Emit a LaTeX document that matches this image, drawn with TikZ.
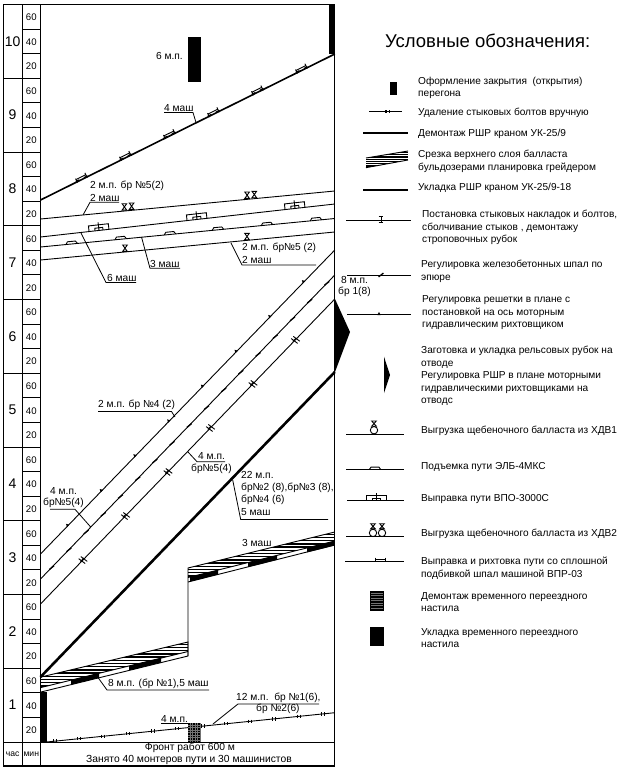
\documentclass[tikz,border=0pt]{standalone}
\usepackage{fontspec}
\setmainfont{Liberation Sans}
\tikzset{
  lbl/.style={inner sep=0pt,font=\fontsize{10.2}{12}\selectfont,anchor=west},
  leg/.style={inner sep=0pt,font=\fontsize{10.1}{12.6}\selectfont,anchor=west,align=left},
  minlbl/.style={inner sep=0pt,font=\fontsize{9.6}{11}\selectfont},
  hourlbl/.style={inner sep=0pt,font=\fontsize{14}{17}\selectfont},
  grid/.style={line width=1pt},
  lead/.style={line width=.8pt},
  track/.style={line width=.9pt},
  fat/.style={line width=1.6pt},
  triamark/.pic={\fill (-1.7,.3)--(0,-2.8)--(1.7,.3)--cycle;},
  slashmark/.pic={\draw[line width=1.3pt] (-2.4,1.9)--(2.4,-1.9);},
  hashmark/.pic={\draw[line width=.9pt] (-1.6,-4)--(-.6,4) (1.4,-4)--(2.4,4) (-2.5,-.8)--(2.5,-.8);},
  beammark/.pic={\draw[line width=.8pt] (-2.4,-3.5)--(2.4,-3.5) (-2.4,2.5)--(2.4,2.5) (0,-3.5)--(0,2.5);},
  boltmark/.pic={\draw[line width=1.4pt] (-1.7,-1.7)--(-1.7,1.7) (1.7,-1.7)--(1.7,1.7);},
  vprmark/.pic={\draw[line width=.9pt] (-5.5,-2.6)--(5.5,-2.6) (-5.5,-3.6)--(-5.5,.8) (5.5,-4.6)--(5.5,.8);
    \fill (-6.5,-1.4)--(-2.5,-1.4)--(-2.5,.3)--(-6.5,.3)--cycle (2.5,-1.4)--(6.5,-1.4)--(6.5,.3)--(2.5,.3)--cycle;},
  glassmark/.pic={\draw[line width=.9pt] (-2.3,-7)--(2.3,-7)--(-2.3,-.6)--(2.3,-.6)--cycle;},
  humpmark/.pic={\draw[line width=.9pt] (-5.8,0)--(-4,-2.6)--(4,-2.6)--(5.8,0);},
  vpomark/.pic={\draw[line width=.9pt] (-10,0)--(-10,-5.6)--(10,-5.6)--(10,0) (-4,0)--(-4,-2.6)--(4,-2.6)--(4,0) (0,0)--(0,-8);},
  ringmark/.pic={\draw[line width=.9pt] (0,-3.8) circle (3.7pt);
    \draw[line width=.9pt] (-2.3,-13)--(2.3,-13)--(-2.3,-7.8)--(2.3,-7.8)--cycle;}
}
\begin{document}
\begin{tikzpicture}[x=1pt,y=-1pt]
\useasboundingbox (0,0) rectangle (626,771);
% time scale
\draw[line width=1.3pt] (3.5,4.5) rectangle (334.8,766);
\draw[grid] (22,4.5)--(22,766) (40.5,4.5)--(40.5,766) (3.5,742)--(334.8,742);
\foreach \n [count=\i from 0] in {10,9,...,1}{
  \pgfmathsetmacro{\yy}{4.5+73.75*\i}
  \node[hourlbl] (h\n) at (12.6,\yy+36.9) {\n};
  \draw[grid] (3.5,\yy)--(22,\yy);
  \foreach \m [count=\j from 0] in {60,40,20}{
    \draw[grid] (22,\yy+24.58*\j)--(40.5,\yy+24.58*\j);
    \node[minlbl] (m\n\m) at (31.3,\yy+13+24.58*\j) {\m};
  }
}
\node[inner sep=0pt,font=\fontsize{8.6}{10}\selectfont] (chas) at (12.6,754.5) {час};
\node[inner sep=0pt,font=\fontsize{8.6}{10}\selectfont] (minu) at (31.3,754.5) {мин};
\node[inner sep=0pt,font=\fontsize{10.3}{12}\selectfont] (front) at (190,747.5) {Фронт работ 600 м};
\node[inner sep=0pt,font=\fontsize{10.3}{12}\selectfont] (busy) at (189,759.5) {Занято 40 монтеров пути и 30 машинистов};
% closure
\fill (187.5,37) rectangle (200.7,82);
\node[lbl,anchor=east] (sixmp) at (183,56) {6 м.п.};
\fill (329,4.5) rectangle (334.8,54);
\fill (335,299)--(350,332)--(335,372)--cycle;
\fill (41,692) rectangle (46.5,742);
% removal of the old track
\draw[fat] (40.5,200)--(334.8,54);
\foreach \x in {82,126,170,214,258,302}
  \pic[rotate=26.4] at (\x,200-.496*\x+20.1) {vprmark};
\node[lbl] (fourm) at (164,108) {4 маш};
\coordinate (fourma) at (164,112.5);\coordinate (fourmb) at (193,112.5);\coordinate (fourmc) at (196,122.5);
\draw[lead] (fourma)--(fourmb)--(fourmc);
% ballast, lifting, straightening
\draw[track] (40.5,219)--(334.8,191);
\draw[track] (40.5,237)--(334.8,204);
\draw[track] (40.5,247)--(334.8,218.5);
\draw[track] (40.5,260)--(334.8,232);
\foreach \x/\y in {128/210.7,250.7/199}{
  \pic at (\x-3.6,\y) {glassmark};
  \pic at (\x+3.6,\y-.7) {glassmark};
}
\foreach \x/\y in {125/252,247/240.3} \pic at (\x,\y) {glassmark};
\foreach \x/\y in {99/230.4,197/219.4,295/208.4} \pic[rotate=6.4] at (\x,\y) {vpomark};
\foreach \x/\y in {71.7/244,120.7/239.3,170/234.5,218/229.9,267/225.2,316/220.4} \pic[rotate=5.5] at (\x,\y) {humpmark};
\node[lbl] (twoa) at (90,186) {2 м.п. бр №5(2)};
\node[lbl] (twob) at (90,197.5) {2 маш};
\coordinate (twoc) at (119,202.3);\coordinate (twod) at (90,202.3);\coordinate (twoe) at (83,215);
\draw[lead] (twoc)--(twod)--(twoe);
\node[lbl] (six) at (107,278) {6 маш};
\coordinate (sixa) at (81,233);\coordinate (sixb) at (106,282.5);\coordinate (sixc) at (136,282.5);
\draw[lead] (sixa)--(sixb)--(sixc);
\node[lbl] (three) at (150,263.5) {3 маш};
\coordinate (threea) at (141.5,237);\coordinate (threeb) at (150,268.3);\coordinate (threec) at (180,268.3);
\draw[lead] (threea)--(threeb)--(threec);
\node[lbl] (twof) at (242,247.5) {2 м.п. бр№5 (2)};
\node[lbl] (twog) at (242,260) {2 маш};
\coordinate (twoh) at (231,243);\coordinate (twoi) at (242,265);\coordinate (twoj) at (316,265);
\draw[lead] (twoh)--(twoi)--(twoj);
% straight lines up to the right
\draw[track] (40.5,554)--(334.8,250);
\draw[track] (40.5,579)--(334.8,275);
\draw[track] (40.5,604)--(334.8,299);
\draw[line width=2.6pt] (40.5,677)--(334.8,372);
\foreach \x in {68,101.7,...,310} \pic[rotate=46] at (\x,554-1.033*\x+42) {triamark};
\foreach \x in {51.7,68.9,...,330} \pic at (\x,579-1.033*\x+42) {slashmark};
\foreach \x in {82.7,125.2,...,300} \pic[rotate=46] at (\x,604-1.036*\x+42) {hashmark};
\node[lbl] (eightm) at (341,279.5) {8 м.п.};
\node[lbl] (eightb) at (338,291.7) {бр 1(8)};
\node[lbl] (fourb) at (98,405) {2 м.п. бр №4 (2)};
\coordinate (fourba) at (98,411.5);\coordinate (fourbb) at (171.5,411.5);\coordinate (fourbc) at (175,417);
\draw[lead] (fourba)--(fourbb)--(fourbc);
\node[lbl] (fourc) at (198,456) {4 м.п.};
\node[lbl] (fourd) at (191,469) {бр№5(4)};
\coordinate (fourca) at (188,452);\coordinate (fourcb) at (197,461.7);\coordinate (fourcc) at (225,461.7);
\draw[lead] (fourca)--(fourcb)--(fourcc);
\node[lbl] (fourg) at (50,491) {4 м.п.};
\node[lbl] (fourh) at (43,503) {бр№5(4)};
\coordinate (fourga) at (50,509.3);\coordinate (fourgb) at (75,509.3);\coordinate (fourgc) at (90.7,527);
\draw[lead] (fourga)--(fourgb)--(fourgc);
\node[lbl] (twotwo) at (241,474.5) {22 м.п.};
\node[lbl] (twotwob) at (241,487.5) {бр№2 (8),бр№3 (8),};
\node[lbl] (twotwoc) at (241,500) {бр№4 (6)};
\node[lbl] (twotwod) at (241,512.3) {5 маш};
\coordinate (ttaa) at (232.7,480);\coordinate (ttab) at (240.7,519.5);\coordinate (ttac) at (328,519.5);
\draw[lead] (ttaa)--(ttab)--(ttac);
% ballast cut
\begin{scope}
  \clip (41,677)--(188,642)--(188,651.5)--(41,687.5)--cycle;
  \foreach \h in {641,644.2,...,690} \draw[line width=1.4pt] (41,\h)--(188,\h);
\end{scope}
\begin{scope}
  \clip (188,568)--(334.8,532)--(334.8,541)--(188,577.5)--cycle;
  \foreach \h in {531,534.2,...,580} \draw[line width=1.4pt] (188,\h)--(334.8,\h);
\end{scope}
\draw[track] (41,677)--(188,642)--(188,656)--(41,692);
\draw[track] (188,656)--(188,568)--(334.8,532);
\draw[track] (188,582)--(334.8,545);
\draw[track] (41,687.5)--(188,651.5);
\draw[track] (188,577.5)--(334.8,541);
\foreach \xa/\xb in {71/99,129/161}
  \fill (\xa,692-.245*\xa+10)--(\xb,692-.245*\xb+10)--(\xb,687.5-.245*\xb+10)--(\xa,687.5-.245*\xa+10)--cycle;
\foreach \xa/\xb in {190/218,248/277,307/334.8}
  \fill (\xa,582-.249*\xa+46.8)--(\xb,582-.249*\xb+46.8)--(\xb,577.5-.249*\xb+46.8)--(\xa,577.5-.249*\xa+46.8)--cycle;
\node[lbl] (threem) at (242,542.5) {3 маш};
\node[lbl] (eightc) at (108,684) {8 м.п. (бр №1),5 маш};
\coordinate (eca) at (98,677.5);\coordinate (ecb) at (107,690);\coordinate (ecc) at (209,690);
\draw[lead] (eca)--(ecb)--(ecc);
% bolts and crossing
\draw[track] (46.5,742)--(334.8,712.7);
\foreach \x in {55,79,103,128,153,177,203,226,250,274,299,323}
  \pic at (\x,742-.1017*\x+4.7) {boltmark};
\fill (188,723) rectangle (200.7,742);
\foreach \h in {725,727.5,...,741} \draw[black!55,line width=.2pt] (188,\h)--(200.7,\h);
\foreach \v in {190,192.5,...,200} \draw[black!55,line width=.2pt] (\v,723)--(\v,742);
\node[lbl] (fourj) at (161,718.5) {4 м.п.};
\coordinate (fja) at (161,723.3);\coordinate (fjb) at (188,723.3);
\draw[lead] (fja)--(fjb);
\node[lbl] (twelve) at (236,697.5) {12 м.п.\ \ бр №1(6),};
\node[lbl] (twelveb) at (256,709) {бр №2(6)};
\coordinate (twa) at (319,704);\coordinate (twb) at (238,704);\coordinate (twc) at (213,724);
\draw[lead] (twa)--(twb)--(twc);
% legend
\node[inner sep=0pt,font=\fontsize{18.5}{20}\selectfont,anchor=west] (legtitle) at (385,40.5) {Условные обозначения:};
\fill (390,81.7) rectangle (397.3,95);
\node[leg] (leg1) at (418,88) {Оформление закрытия\ \ (открытия)\\перегона};
\draw[track] (369,111.7)--(402,111.7);
\pic at (387.5,111.7) {boltmark};
\node[leg] (leg2) at (418,113) {Удаление стыковых болтов вручную};
\draw[fat] (363,132.7)--(408,132.7);
\node[leg] (leg3) at (418,134) {Демонтаж РШР краном УК-25/9};
\begin{scope}
  \clip (366,158)--(408,151)--(408,160)--(366,167.7)--cycle;
  \foreach \h in {150,152.3,...,168} \draw[line width=1.3pt] (366,\h)--(408,\h);
\end{scope}
\draw[line width=.9pt] (366,158)--(408,151) (366,167.7)--(408,160);
\node[leg] (leg4) at (418,161.5) {Срезка верхнего слоя балласта\\бульдозерами планировка грейдером};
\draw[fat] (363,190)--(408,190);
\node[leg] (leg5) at (418,188) {Укладка РШР краном УК-25/9-18};
\draw[track] (346,220)--(411,220);
\pic at (381,220) {beammark};
\node[leg] (leg6) at (422,227.5) {Постановка стыковых накладок и болтов,\\сболчивание стыков , демонтажу\\строповочных рубок};
\draw[track] (347,275)--(411,275);
\pic at (381,275) {slashmark};
\node[leg] (leg7) at (421,271.5) {Регулировка железобетонных шпал по\\эпюре};
\draw[track] (347,314.7)--(411,314.7);
\pic at (379,314.7) {triamark};
\node[leg] (leg8) at (422,312.6) {Регулировка решетки в плане с\\постановкой на ось моторным\\гидравлическим рихтовщиком};
\fill (384,356.7)--(390,375)--(384,393)--cycle;
\node[leg] (leg9) at (421,376) {Заготовка и укладка рельсовых рубок на\\отводе\\Регулировка РШР в плане моторными\\гидравлическими рихтовщиками на\\отводс};
\draw[track] (346,434)--(404,434);
\pic at (374,434) {ringmark};
\node[leg] (leg10) at (421,431) {Выгрузка щебеночного балласта из ХДВ1};
\draw[track] (346,469.7)--(404,469.7);
\pic at (375,469.7) {humpmark};
\node[leg] (leg11) at (421,467) {Подъемка пути ЭЛБ-4МКС};
\draw[track] (347,500.7)--(404,500.7);
\pic at (376,500.7) {vpomark};
\node[leg] (leg12) at (421,499) {Выправка пути ВПО-3000С};
\draw[track] (346,536.7)--(404,536.7);
\pic at (373,536.7) {ringmark};
\pic at (382,536.7) {ringmark};
\node[leg] (leg13) at (421,534) {Выгрузка щебеночного балласта из ХДВ2};
\draw[track] (345,561.7)--(404,561.7);
\draw[line width=1pt] (375,559)--(385,559) (375,557.5)--(375,561.7) (385,557.5)--(385,561.7);
\node[leg] (leg14) at (421,568.5) {Выправка и рихтовка пути со сплошной\\подбивкой шпал машиной ВПР-03};
\fill (370,590.7) rectangle (384,610.7);
\foreach \h in {593,595.5,...,609} \draw[black!55,line width=.2pt] (371,\h)--(383,\h);
\node[leg] (leg15) at (421,602) {Демонтаж временного переездного\\настила};
\fill (370,626.7) rectangle (384,646);
\node[leg] (leg16) at (421,638) {Укладка временного переездного\\настила};
\end{tikzpicture}
\end{document}
